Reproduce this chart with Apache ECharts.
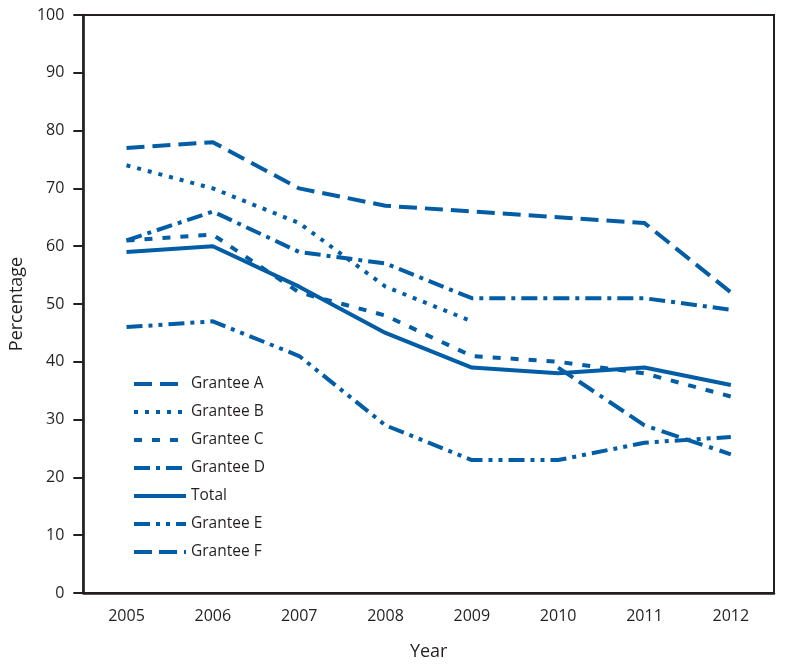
<!DOCTYPE html>
<html><head><meta charset="utf-8">
<script src="https://cdn.jsdelivr.net/npm/echarts@6/dist/echarts.min.js"></script>
<style>html,body{margin:0;padding:0;background:#fff}#c{width:786px;height:669px}</style>
</head><body><div id="c"></div>
<script>
const years = ['2005','2006','2007','2008','2009','2010','2011','2012'];
const granteeA = [77, 78, 70, 67, 66, 65, 64, 52];
const granteeB = [74, 70, 64, 53, 47, null, null, null];
const granteeC = [61, 62, 52, 48, 41, 40, 38, 34];
const granteeD = [61, 66, 59, 57, 51, 51, 51, 49];
const total    = [59, 60, 53, 45, 39, 38, 39, 36];
const granteeE = [46, 47, 41, 29, 23, 23, 26, 27];
const granteeF = [null, null, null, null, null, 39, 29, 24];
const yTicks = [0,10,20,30,40,50,60,70,80,90,100];

const blue = '#005da6';
const ink = '#231f20';
const font = '"Open Sans", "Noto Sans", sans-serif';
function s(name, data, type) {
  return { name, type: 'line', data, symbol: 'none', connectNulls: false,
    lineStyle: { color: blue, width: 4, type: type, cap: 'butt' },
    itemStyle: { color: blue } };
}
const chart = echarts.init(document.getElementById('c'));
chart.setOption({
  animation: false,
  grid: { left: 80, top: 15, right: 12, bottom: 76, show: true, borderColor: ink, borderWidth: 2 },
  legend: {
    orient: 'vertical', left: 132, top: 376, itemWidth: 52, itemHeight: 14, itemGap: 12, padding: 0,
    itemStyle: { opacity: 0 },
    lineStyle: { width: 4 },
    textStyle: { fontFamily: font, fontSize: 15.5, color: ink, lineHeight: 16 },
    data: ['Grantee A','Grantee B','Grantee C','Grantee D','Total','Grantee E','Grantee F']
  },
  xAxis: {
    type: 'category', data: years, boundaryGap: true,
    name: 'Year', nameLocation: 'middle', nameGap: 50,
    nameTextStyle: { fontFamily: font, fontSize: 18, color: ink },
    axisLine: { lineStyle: { color: ink, width: 2.5 } },
    axisTick: { alignWithLabel: true, length: 6, lineStyle: { color: ink, width: 2 } },
    axisLabel: { fontFamily: font, fontSize: 16, color: ink, margin: 15 }
  },
  yAxis: {
    type: 'value', min: 0, max: 100, interval: 10,
    name: 'Percentage', nameLocation: 'middle', nameGap: 52,
    nameTextStyle: { fontFamily: font, fontSize: 18, color: ink },
    axisLine: { show: true, lineStyle: { color: ink, width: 2.5 } },
    axisTick: { show: true, length: 10, lineStyle: { color: ink, width: 2 } },
    splitLine: { show: false },
    axisLabel: { fontFamily: font, fontSize: 16, color: ink, margin: 19,
      formatter: v => yTicks.includes(v) ? String(v) : '' }
  },
  series: [
    s('Grantee A', granteeA, [18, 8]),
    s('Grantee B', granteeB, [4, 7]),
    s('Grantee C', granteeC, [8, 10]),
    s('Grantee D', granteeD, [16, 6, 4, 6]),
    s('Total', total, 'solid'),
    s('Grantee E', granteeE, [16, 6, 4, 6, 4, 6]),
    s('Grantee F', granteeF, [18, 7, 18, 7, 4, 7])
  ]
});
</script></body></html>
